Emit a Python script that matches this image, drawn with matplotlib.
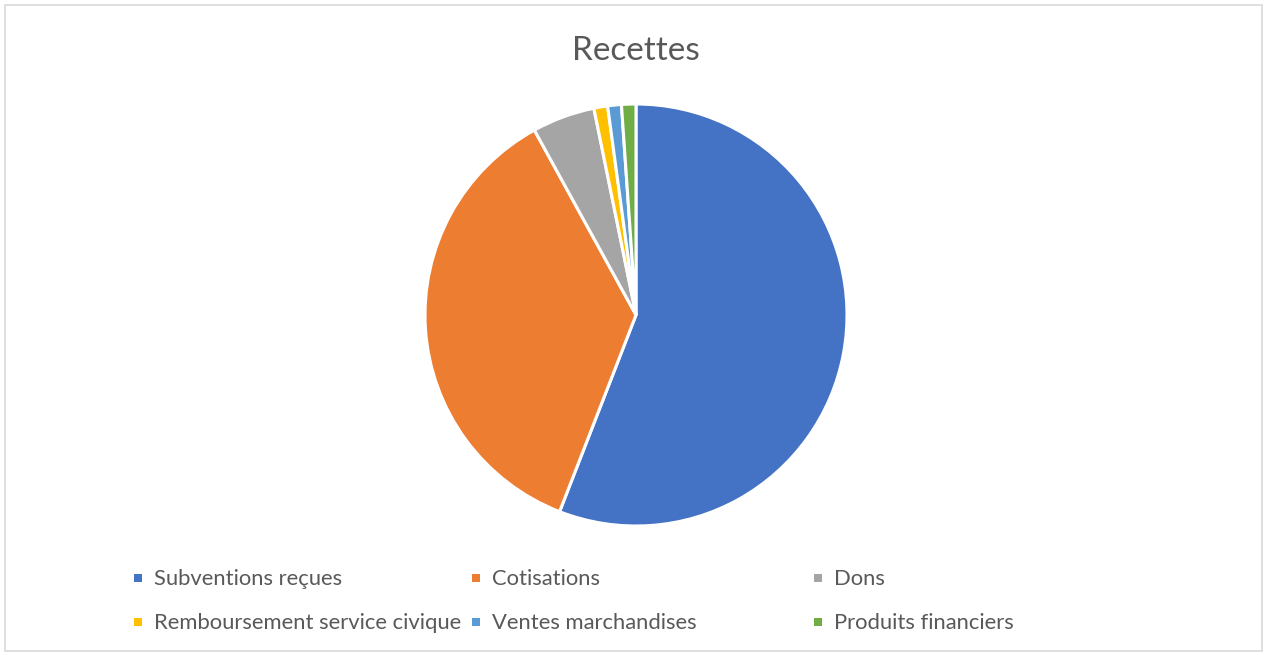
import matplotlib
matplotlib.use("Agg")
import matplotlib.pyplot as plt
from matplotlib.patches import Rectangle

labels = ["Subventions reçues", "Cotisations", "Dons",
          "Remboursement service civique", "Ventes marchandises", "Produits financiers"]
values = [55.9, 36.1, 4.8, 1.05, 1.05, 1.1]
colors = ["#4472C4", "#ED7D31", "#A5A5A5", "#FFC000", "#5B9BD5", "#70AD47"]

W, H = 1266, 655
fig = plt.figure(figsize=(W / 100, H / 100), dpi=100)
plt.rcParams['font.family'] = ['Lato', 'DejaVu Sans']

# outer border
fig.patches.append(Rectangle((5 / W, 4 / H), 1257 / W, 646 / H, transform=fig.transFigure,
                             fill=False, edgecolor="#d9d9d9", linewidth=1.2))

cx, cy, r = 636, 315, 211
ax = fig.add_axes([(cx - r) / W, (H - cy - r) / H, 2 * r / W, 2 * r / H])
ax.pie(values, colors=colors, startangle=90, counterclock=False, radius=1,
       wedgeprops=dict(edgecolor="white", linewidth=2.2))
ax.set_xlim(-1.0, 1.0)
ax.set_ylim(-1.0, 1.0)
ax.set_aspect("equal")
ax.axis("off")

fig.text(cx / W, 1 - 51 / H, "Recettes", ha="center", va="center",
         fontsize=24, color="#595959")

col_x = [138, 476, 818]
row_y = [578, 622]
for i, (lab, col) in enumerate(zip(labels, colors)):
    x = col_x[i % 3]
    y = row_y[i // 3]
    fig.patches.append(Rectangle(((x - 4) / W, (H - y - 4) / H), 8 / W, 8 / H,
                                 transform=fig.transFigure, facecolor=col, edgecolor="none"))
    fig.text((x + 16) / W, 1 - (y + 1) / H, lab, ha="left", va="center",
             fontsize=15.8, color="#595959")

fig.savefig("out.png", dpi=100)
